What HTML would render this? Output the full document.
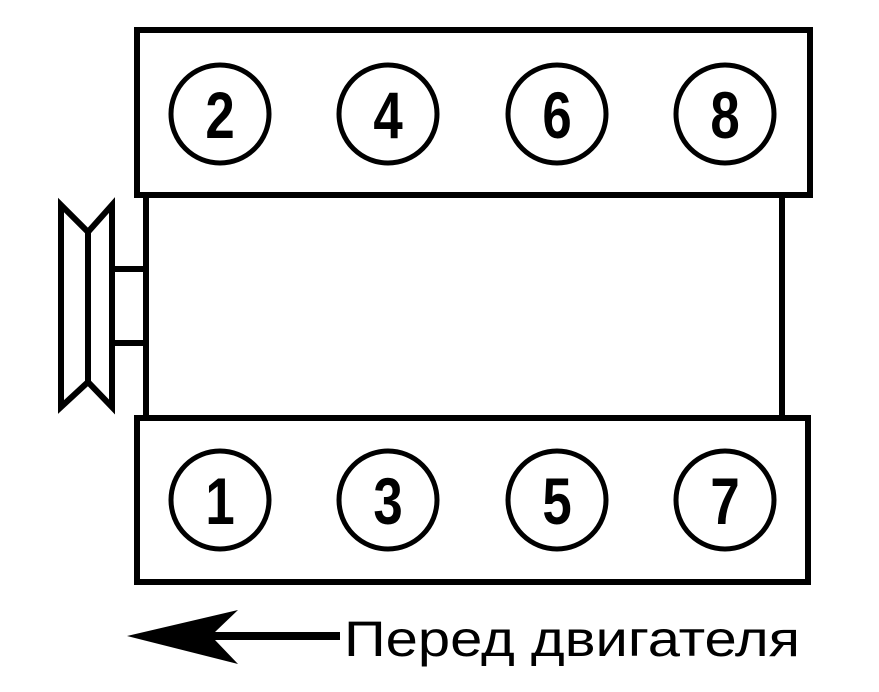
<!DOCTYPE html>
<html><head><meta charset="utf-8"><style>
html,body{margin:0;padding:0;background:#fff;}
svg{display:block}
</style></head><body>
<svg width="879" height="692" viewBox="0 0 879 692" xmlns="http://www.w3.org/2000/svg">
<g fill="none" stroke="#000" stroke-width="6">
<rect x="137" y="30" width="673" height="165"/>
<rect x="137" y="418" width="671" height="164"/>
<line x1="146" y1="195" x2="146" y2="418"/>
<line x1="782" y1="195" x2="782" y2="418"/>
<polygon points="61,205 88,232 112,205 112,407 88,382 61,407" stroke-linejoin="miter"/>
<line x1="88" y1="232" x2="88" y2="382"/>
<rect x="112" y="269" width="34" height="74"/>
<g stroke-width="5">
<circle cx="220" cy="114" r="49"/><circle cx="388" cy="114" r="49"/><circle cx="557" cy="114" r="49"/><circle cx="725" cy="114" r="49"/>
<circle cx="220" cy="500" r="49"/><circle cx="388" cy="500" r="49"/><circle cx="557" cy="500" r="49"/><circle cx="725" cy="500" r="49"/>
</g>
</g>
<g font-family="Liberation Sans, sans-serif" font-weight="bold" font-size="66" text-anchor="middle" fill="#000">
<text transform="translate(220,138) scale(0.8,1)">2</text><text transform="translate(388,138) scale(0.8,1)">4</text><text transform="translate(557,138) scale(0.8,1)">6</text><text transform="translate(725,138) scale(0.8,1)">8</text>
<text transform="translate(220,524) scale(0.8,1)">1</text><text transform="translate(388,524) scale(0.8,1)">3</text><text transform="translate(557,524) scale(0.8,1)">5</text><text transform="translate(725,524) scale(0.8,1)">7</text>
</g>
<polygon points="127,636 238,610 215,632 340,632 340,640 215,640 238,664" fill="#000"/>
<text x="344" y="656" font-family="Liberation Sans, sans-serif" font-size="50" textLength="456" lengthAdjust="spacingAndGlyphs" fill="#000">Перед двигателя</text>
</svg>
</body></html>
